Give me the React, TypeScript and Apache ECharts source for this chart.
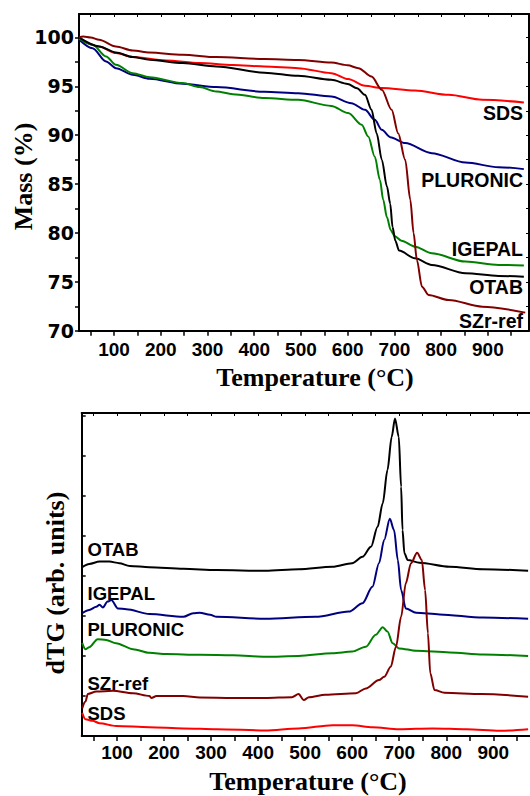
import React, { useEffect, useRef } from "react";
import * as echarts from "echarts";

// ---------- Data ----------
const tempLabels = [100, 200, 300, 400, 500, 600, 700, 800, 900];
const tempTicks = [50, 100, 150, 200, 250, 300, 350, 400, 450, 500, 550, 600, 650, 700, 750, 800, 850, 900, 950];
const massLabels = [70, 75, 80, 85, 90, 95, 100];
const massTicks = [70, 72.5, 75, 77.5, 80, 82.5, 85, 87.5, 90, 92.5, 95, 97.5, 100];
const dtgTicks = [0, 1, 2, 3, 4, 5, 6, 7, 8];

// TGA mass (%) vs temperature (°C)
const tgaSDS: [number, number][] = [
  [25, 99.85], [68, 99.08], [104, 98.4], [140, 98.0], [211, 97.65], [283, 97.38], [354, 97.17], [422, 97.03],
  [494, 96.86], [565, 96.35], [601, 95.74], [637, 95.05], [673, 94.82], [744, 94.57], [816, 94.13], [888, 93.62], [977, 93.35],
];
const tgaPLURONIC: [number, number][] = [
  [25, 99.8], [54, 98.9], [83, 97.54], [104, 96.86], [140, 96.18], [176, 95.77], [247, 95.26], [319, 94.92], [422, 94.44],
  [494, 94.3], [565, 93.96], [608, 93.28], [637, 92.6], [658, 91.57], [673, 90.55], [691, 89.8], [723, 89.19], [780, 88.16],
  [852, 87.2], [923, 86.73], [977, 86.53],
];
const tgaIGEPAL: [number, number][] = [
  [25, 99.9], [54, 99.25], [83, 98.05], [104, 97.2], [140, 96.35], [176, 95.94], [247, 95.33], [283, 94.92], [319, 94.47],
  [354, 94.2], [422, 93.8], [494, 93.62], [565, 93.0], [601, 92.26], [630, 91.06], [644, 89.86], [658, 87.8], [669, 85.43],
  [676, 83.4], [684, 81.6], [692, 80.3], [700, 79.7], [715, 79.2], [744, 78.6], [780, 77.92], [852, 77.07], [923, 76.73], [977, 76.66],
];
const tgaOTAB: [number, number][] = [
  [25, 100.0], [68, 99.08], [104, 98.46], [140, 98.0], [176, 97.72], [247, 97.38], [319, 97.03], [422, 96.4], [494, 96.08],
  [565, 95.67], [600, 95.25], [620, 94.8], [637, 94.13], [651, 92.6], [662, 90.2], [673, 87.5], [684, 84.75], [691, 83.0], [696, 80.6],
  [702, 79.2], [710, 78.2], [744, 77.4], [780, 76.73], [852, 75.88], [923, 75.6], [977, 75.53],
];
const tgaSZrRef: [number, number][] = [
  [25, 100.0], [34, 100.1], [50, 100.0], [68, 99.77], [104, 99.08], [140, 98.67], [176, 98.46], [247, 98.23], [319, 97.99],
  [422, 97.79], [494, 97.69], [565, 97.44], [600, 97.15], [623, 96.86], [651, 96.0], [673, 94.65], [694, 92.6], [708, 90.2], [723, 87.5],
  [734, 83.4], [741, 80.0], [748, 77.24], [759, 74.5], [773, 73.66], [816, 73.14], [888, 72.46], [980, 71.85],
];

// dTG (arb. units) vs temperature (°C), curves vertically offset
const dtgOTAB: [number, number][] = [
  [27, 4.23], [41, 4.3], [63, 4.36], [84, 4.36], [105, 4.32], [127, 4.25], [169, 4.22], [241, 4.18], [312, 4.15], [415, 4.13],
  [486, 4.17], [558, 4.23], [600, 4.32], [622, 4.48], [640, 4.73], [654, 5.23], [665, 5.82], [675, 6.65], [684, 7.48],
  [691, 7.94], [699, 7.48], [704, 6.23], [707, 5.15], [711, 4.57], [718, 4.4], [743, 4.33], [807, 4.23], [878, 4.17], [974, 4.13],
];
const dtgIGEPAL: [number, number][] = [
  [27, 3.08], [41, 3.15], [56, 3.23], [63, 3.28], [70, 3.21], [80, 3.36], [88, 3.4], [102, 3.19], [120, 3.17], [169, 3.05],
  [241, 2.98], [262, 3.07], [276, 3.08], [298, 3.03], [312, 2.98], [415, 2.93], [522, 2.98], [593, 3.11], [622, 3.32],
  [643, 3.73], [657, 4.32], [668, 4.9], [680, 5.43], [689, 5.15], [697, 4.4], [704, 3.65], [714, 3.19], [736, 3.08],
  [786, 3.04], [878, 2.96], [974, 2.93],
];
const dtgPLURONIC: [number, number][] = [
  [26, 2.33], [33, 2.17], [41, 2.22], [59, 2.42], [77, 2.4], [98, 2.32], [134, 2.17], [169, 2.08], [205, 2.05], [276, 2.03],
  [347, 2.02], [415, 1.98], [486, 2.0], [558, 2.07], [600, 2.11], [629, 2.23], [650, 2.53], [665, 2.72], [675, 2.61],
  [686, 2.32], [700, 2.19], [736, 2.13], [807, 2.09], [878, 2.04], [974, 2.0],
];
const dtgSZrRef: [number, number][] = [
  [26, 0.69], [33, 0.86], [38, 1.05], [56, 1.11], [91, 1.13], [134, 1.07], [169, 1.0], [173, 0.95], [184, 1.0], [241, 1.0],
  [276, 0.96], [347, 0.95], [415, 0.95], [472, 0.97], [486, 1.05], [497, 0.9], [508, 0.97], [543, 1.03], [608, 1.07],
  [629, 1.19], [657, 1.4], [668, 1.48], [682, 1.73], [693, 2.23], [704, 2.98], [714, 3.82], [725, 4.32], [738, 4.58],
  [748, 4.4], [755, 3.65], [761, 2.57], [766, 1.57], [775, 1.15], [796, 1.08], [875, 1.05], [974, 0.98],
];
const dtgSDS: [number, number][] = [
  [26, 0.58], [33, 0.42], [48, 0.38], [63, 0.32], [98, 0.25], [169, 0.22], [241, 0.19], [312, 0.17], [415, 0.14], [486, 0.19],
  [558, 0.27], [600, 0.27], [643, 0.22], [700, 0.17], [771, 0.19], [843, 0.17], [914, 0.13], [974, 0.17],
];

const seriesNames = ["SDS", "PLURONIC", "IGEPAL", "OTAB", "SZr-ref"];
// colours differ between the two panels (as in the original figure)
const tgaColors: Record<string, string> = {
  SDS: "#ff0000",
  PLURONIC: "#000080",
  IGEPAL: "#008000",
  OTAB: "#000000",
  "SZr-ref": "#800000",
};
const dtgColors: Record<string, string> = {
  SDS: "#ff0000",
  PLURONIC: "#008000",
  IGEPAL: "#000080",
  OTAB: "#000000",
  "SZr-ref": "#800000",
};

const tgaData: Record<string, [number, number][]> = {
  SDS: tgaSDS,
  PLURONIC: tgaPLURONIC,
  IGEPAL: tgaIGEPAL,
  OTAB: tgaOTAB,
  "SZr-ref": tgaSZrRef,
};
const dtgData: Record<string, [number, number][]> = {
  SDS: dtgSDS,
  PLURONIC: dtgPLURONIC,
  IGEPAL: dtgIGEPAL,
  OTAB: dtgOTAB,
  "SZr-ref": dtgSZrRef,
};

// label positions (pixels)
const topLabelPos: Record<string, number> = { SDS: 113, PLURONIC: 180, IGEPAL: 249, OTAB: 287, "SZr-ref": 320.5 };
const bottomLabelPos: Record<string, number> = { OTAB: 549.7, IGEPAL: 593, PLURONIC: 629.5, "SZr-ref": 683, SDS: 713.3 };

const SANS = "'Liberation Sans', Arial, sans-serif";
const SERIF = "'Liberation Serif', 'Times New Roman', serif";

export default function App() {
  const ref = useRef<HTMLDivElement>(null);

  useEffect(() => {
    if (!ref.current) return;
    const chart = echarts.init(ref.current, undefined, { renderer: "svg" });

    const axisLine = { show: true, onZero: false, lineStyle: { color: "#000", width: 2 } };

    const series: any[] = [];
    seriesNames.forEach((n) => {
      series.push({
        type: "line",
        name: n + " TG",
        xAxisIndex: 0,
        yAxisIndex: 0,
        data: tgaData[n],
        symbol: "none",
        smooth: 0.3,
        smoothMonotone: "x",
        lineStyle: { color: tgaColors[n], width: 2 },
        z: 3,
      });
      series.push({
        type: "line",
        name: n + " dTG",
        xAxisIndex: 2,
        yAxisIndex: 2,
        data: dtgData[n],
        symbol: "none",
        smooth: 0.3,
        smoothMonotone: "x",
        lineStyle: { color: dtgColors[n], width: 2 },
        z: 3,
      });
    });

    const graphics: any[] = [];
    seriesNames.forEach((n) => {
      graphics.push({
        type: "text",
        x: 523,
        y: topLabelPos[n],
        style: {
          text: n,
          fill: "#000",
          font: `bold 19.5px ${SANS}`,
          textAlign: "right",
          textVerticalAlign: "middle",
        },
      });
      graphics.push({
        type: "text",
        x: 87.5,
        y: bottomLabelPos[n],
        style: {
          text: n,
          fill: "#000",
          font: `bold 18.5px ${SANS}`,
          textAlign: "left",
          textVerticalAlign: "middle",
        },
      });
    });
    graphics.push(
      {
        type: "text",
        x: 315,
        y: 377.5,
        style: { text: "Temperature (°C)", fill: "#000", font: `bold 26px ${SERIF}`, textAlign: "center", textVerticalAlign: "middle" },
      },
      {
        type: "text",
        x: 308,
        y: 781,
        style: { text: "Temperature (°C)", fill: "#000", font: `bold 26px ${SERIF}`, textAlign: "center", textVerticalAlign: "middle" },
      },
      {
        type: "text",
        x: 23,
        y: 176.5,
        rotation: Math.PI / 2,
        style: { text: "Mass (%)", fill: "#000", font: `bold 26px ${SERIF}`, textAlign: "center", textVerticalAlign: "middle" },
      },
      {
        type: "text",
        x: 55,
        y: 583,
        rotation: Math.PI / 2,
        style: { text: "dTG (arb. units)", fill: "#000", font: `bold 26px ${SERIF}`, textAlign: "center", textVerticalAlign: "middle" },
      }
    );

    const option: any = {
      animation: false,
      backgroundColor: "#fff",
      grid: [
        { left: 79, top: 14, width: 450, height: 316.7 },
        { left: 81.7, top: 413, width: 448.3, height: 323 },
      ],
      xAxis: [
        {
          type: "value",
          gridIndex: 0,
          position: "bottom",
          min: 25,
          max: 988,
          axisLine,
          splitLine: { show: false },
          axisTick: { show: true, inside: false, length: 5, customValues: tempTicks, lineStyle: { color: "#000", width: 1.5 } },
          axisLabel: { show: true, customValues: tempLabels, margin: 9, color: "#000", fontSize: 19, fontWeight: "bold", fontFamily: SANS },
        },
        {
          type: "value",
          gridIndex: 0,
          position: "top",
          min: 25,
          max: 988,
          axisLine,
          splitLine: { show: false },
          axisTick: { show: true, inside: true, length: 3, customValues: tempTicks, lineStyle: { color: "#000", width: 1 } },
          axisLabel: { show: false },
        },
        {
          type: "value",
          gridIndex: 1,
          position: "bottom",
          min: 25,
          max: 978,
          axisLine,
          splitLine: { show: false },
          axisTick: { show: true, inside: false, length: 5, customValues: tempTicks, lineStyle: { color: "#000", width: 1.5 } },
          axisLabel: { show: true, customValues: tempLabels, margin: 7, color: "#000", fontSize: 19, fontWeight: "bold", fontFamily: SANS },
        },
        {
          type: "value",
          gridIndex: 1,
          position: "top",
          min: 25,
          max: 978,
          axisLine,
          splitLine: { show: false },
          axisTick: { show: true, inside: true, length: 3, customValues: tempTicks, lineStyle: { color: "#000", width: 1 } },
          axisLabel: { show: false },
        },
      ],
      yAxis: [
        {
          type: "value",
          gridIndex: 0,
          position: "left",
          min: 70,
          max: 102.4,
          axisLine,
          splitLine: { show: false },
          axisTick: { show: true, inside: false, length: 4, customValues: massTicks, lineStyle: { color: "#000", width: 1.5 } },
          axisLabel: { show: true, customValues: massLabels, margin: 5, color: "#000", fontSize: 19, fontWeight: "bold", fontFamily: "'DejaVu Sans', sans-serif" },
        },
        {
          type: "value",
          gridIndex: 0,
          position: "right",
          min: 70,
          max: 102.4,
          axisLine,
          splitLine: { show: false },
          axisTick: { show: true, inside: true, length: 3, customValues: massTicks, lineStyle: { color: "#000", width: 1 } },
          axisLabel: { show: false },
        },
        {
          type: "value",
          gridIndex: 1,
          position: "left",
          min: 0,
          max: 8.075,
          axisLine,
          splitLine: { show: false },
          axisTick: { show: true, inside: true, length: 4, customValues: dtgTicks, lineStyle: { color: "#000", width: 1.5 } },
          axisLabel: { show: false },
        },
      ],
      series,
      graphic: graphics,
    };

    chart.setOption(option);
    return () => chart.dispose();
  }, []);

  return (
    <div
      ref={ref}
      style={{ position: "absolute", left: 0, top: 0, width: 530, height: 796, background: "#fff" }}
    />
  );
}
